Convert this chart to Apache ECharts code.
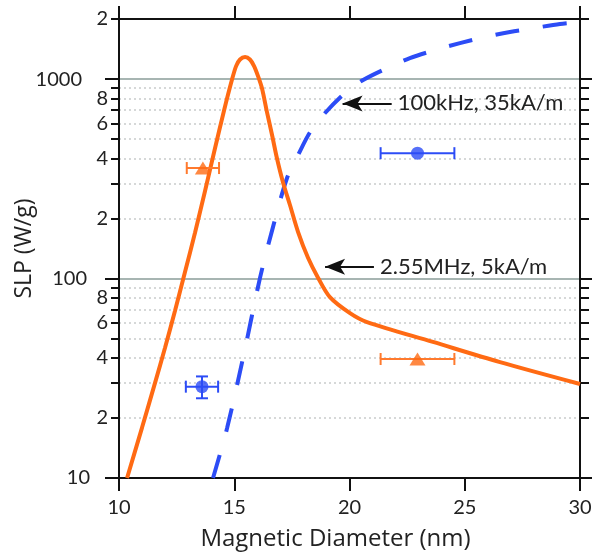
<!DOCTYPE html>
<html>
<head>
<meta charset="utf-8">
<script src="https://cdn.jsdelivr.net/npm/echarts@6/dist/echarts.min.js"></script>
<style>
  html, body { margin: 0; padding: 0; background: #fff; }
  #chart { width: 592px; height: 559px; }
</style>
</head>
<body>
<div id="chart"></div>
<script>
// 2.55MHz, 5kA/m (orange solid curve)
var orangeX = [10.35, 11.0, 11.56, 12.0, 12.43, 12.86, 13.3, 13.73, 14.16, 14.56, 14.9, 15.08, 15.25, 15.47, 15.68, 15.86, 16.03, 16.2, 16.42, 16.64, 16.85, 17.11, 17.42, 17.77, 18.2, 18.64, 19.15, 20.02, 20.76, 23.62, 26.53, 30];
var orangeY = [10, 17.9, 29.9, 45.1, 69, 107.4, 170.2, 274, 447, 698, 991, 1161, 1253, 1288, 1253, 1161, 1035, 901, 683, 524, 402, 305, 233, 171, 127, 100.7, 80.7, 67.1, 60.5, 48.1, 38.1, 29.6];
// 100kHz, 35kA/m (blue dashed curve)
var blueX = [14.08, 14.69, 15.42, 16.12, 16.68, 17.29, 17.77, 18.29, 18.94, 19.8, 20.59, 21.63, 22.62, 23.71, 24.79, 25.88, 26.96, 28.05, 29.13, 30];
var blueY = [10, 17.8, 41.9, 101, 181, 319, 416, 542, 676, 851, 989, 1135, 1274, 1397, 1514, 1624, 1722, 1804, 1889, 1933];
// measured points: [diameter, SLP, diameter error, SLP error]
var orangePts = [[13.64, 358, 0.7, 0], [22.95, 39.5, 1.6, 0]];
var bluePts = [[13.6, 28.7, 0.7, 3.6], [22.95, 425, 1.6, 0]];
// axis ticks
var xTicks = [10, 15, 20, 25, 30];
var yMajor = [10, 100, 1000];
var yMinor = [20, 30, 40, 50, 60, 70, 80, 90, 200, 300, 400, 500, 600, 700, 800, 900, 2000];
var yMinorLabels = [20, 40, 60, 80, 200, 400, 600, 800, 2000];
// arrows with text
var noteText = ['100kHz, 35kA/m', '2.55MHz, 5kA/m'];
var noteY = [755, 114.5];
var noteFrom = [21.83, 21.06];
var noteTo = [19.7, 18.94];

var ORANGE = '#ff6a13';
var BLUE = '#2c4cf6';
var FONT = 'Lato';
var TITLE_FONT = 'Open Sans';
var YMAX = Math.log10(2000);

function lg(v) { return Math.log10(v); }
function pairs(xs, ys) { return xs.map(function (x, i) { return [x, lg(ys[i])]; }); }
function firstDigit(v) { return String(Math.round(Math.pow(10, v))).charAt(0); }

function errorBars(color) {
  return function (params, api) {
    var x = api.value(0), y = api.value(1), dx = api.value(2), yHi = api.value(3), yLo = api.value(4);
    var c = api.coord([x, y]);
    var l = api.coord([x - dx, y]);
    var r = api.coord([x + dx, y]);
    var st = { stroke: color, lineWidth: 2 };
    var cap = 6;
    var kids = [
      { type: 'line', shape: { x1: l[0], y1: c[1], x2: r[0], y2: c[1] }, style: st },
      { type: 'line', shape: { x1: l[0], y1: c[1] - cap, x2: l[0], y2: c[1] + cap }, style: st },
      { type: 'line', shape: { x1: r[0], y1: c[1] - cap, x2: r[0], y2: c[1] + cap }, style: st }
    ];
    if (yHi !== yLo) {
      var t = api.coord([x, yHi]), b = api.coord([x, yLo]);
      kids.push({ type: 'line', shape: { x1: c[0], y1: t[1], x2: c[0], y2: b[1] }, style: st });
      kids.push({ type: 'line', shape: { x1: c[0] - cap, y1: t[1], x2: c[0] + cap, y2: t[1] }, style: st });
      kids.push({ type: 'line', shape: { x1: c[0] - cap, y1: b[1], x2: c[0] + cap, y2: b[1] }, style: st });
    }
    return { type: 'group', children: kids };
  };
}
function errData(pts) {
  return pts.map(function (p) { return [p[0], lg(p[1]), p[2], lg(p[1] + p[3]), lg(p[1] - p[3])]; });
}
function note(i) {
  return [
    { coord: [noteFrom[i], lg(noteY[i])], symbol: 'none' },
    { coord: [noteTo[i], lg(noteY[i])], symbol: 'arrow', symbolSize: [12, 20] }
  ];
}

var chart = echarts.init(document.getElementById('chart'));
var axisLine = { show: true, lineStyle: { color: '#111', width: 2 } };
var labelStyle = { color: '#222', fontFamily: FONT, fontSize: 20 };

chart.setOption({
  animation: false,
  grid: { left: 119, right: 12, top: 19, bottom: 81, containLabel: false, outerBoundsMode: 'none' },
  xAxis: [{
    type: 'value', position: 'bottom', min: 10, max: 30, interval: 5,
    name: 'Magnetic Diameter (nm)', nameLocation: 'middle', nameGap: 49, nameMoveOverlap: false,
    nameTextStyle: { color: '#222', fontFamily: TITLE_FONT, fontSize: 24, padding: [0, 28, 0, 0] },
    axisLine: axisLine,
    axisTick: { customValues: xTicks, length: 13, lineStyle: { color: '#111', width: 2 } },
    axisLabel: Object.assign({ customValues: xTicks, margin: 20 }, labelStyle),
    splitLine: { show: false }
  }, {
    type: 'value', position: 'top', min: 10, max: 30, interval: 5,
    axisLine: axisLine,
    axisTick: { customValues: xTicks, length: 13, lineStyle: { color: '#111', width: 2 } },
    axisLabel: { show: false },
    splitLine: { show: false }
  }],
  yAxis: [{
    type: 'value', position: 'left', min: 1, max: YMAX,
    name: 'SLP (W/g)', nameLocation: 'middle', nameGap: 83, nameMoveOverlap: false,
    nameTextStyle: { color: '#222', fontFamily: TITLE_FONT, fontSize: 23 },
    axisLine: axisLine,
    axisTick: { customValues: yMajor.map(lg), length: 14, lineStyle: { color: '#111', width: 2 } },
    axisLabel: Object.assign({
      customValues: yMajor.map(lg), margin: 29,
      formatter: function (v) {
        var n = Math.round(Math.pow(10, v));
        return '{m' + String(n).length + '|' + n + '}';
      },
      rich: {
        m2: labelStyle,
        m3: Object.assign({ padding: [0, 3, 0, 0] }, labelStyle),
        m4: Object.assign({ padding: [0, 8, 0, 0] }, labelStyle)
      }
    }, labelStyle),
    splitLine: { show: true, lineStyle: { color: '#a7b5b2', width: 2 } }
  }, {
    type: 'value', position: 'left', min: 1, max: YMAX,
    axisLine: { show: false },
    axisTick: { customValues: yMinor.map(lg), length: 8, lineStyle: { color: '#111', width: 2 } },
    axisLabel: Object.assign({ customValues: yMinorLabels.map(lg), margin: 11, formatter: firstDigit }, labelStyle),
    splitLine: { show: true, lineStyle: { color: '#c9cccc', width: 1.5, type: [2, 3] } }
  }, {
    type: 'value', position: 'right', min: 1, max: YMAX,
    axisLine: axisLine,
    axisTick: { customValues: yMajor.map(lg), length: 13, lineStyle: { color: '#111', width: 2 } },
    axisLabel: { show: false },
    splitLine: { show: false }
  }, {
    type: 'value', position: 'right', min: 1, max: YMAX,
    axisLine: { show: false },
    axisTick: { customValues: yMinor.map(lg), length: 9, lineStyle: { color: '#111', width: 2 } },
    axisLabel: { show: false },
    splitLine: { show: false }
  }],
  series: [{
    name: '100kHz, 35kA/m', type: 'line', data: pairs(blueX, blueY),
    smooth: 0.3, showSymbol: false, z: 3,
    lineStyle: { color: BLUE, width: 4, type: [24, 24], cap: 'butt' },
    markLine: {
      silent: true, z: 5,
      lineStyle: { color: '#111', width: 2, type: 'solid' },
      label: { position: 'start', distance: 6, color: '#222', fontFamily: FONT, fontSize: 22, formatter: noteText[0] },
      itemStyle: { color: '#111' },
      data: [note(0)]
    }
  }, {
    name: '2.55MHz, 5kA/m', type: 'line', data: pairs(orangeX, orangeY),
    smooth: 0.3, showSymbol: false, z: 4,
    lineStyle: { color: ORANGE, width: 4 },
    markLine: {
      silent: true, z: 5,
      lineStyle: { color: '#111', width: 2, type: 'solid' },
      label: { position: 'start', distance: 6, color: '#222', fontFamily: FONT, fontSize: 22, formatter: noteText[1] },
      itemStyle: { color: '#111' },
      data: [note(1)]
    }
  }, {
    type: 'custom', renderItem: errorBars('#ff7a2e'), data: errData(orangePts), z: 6
  }, {
    type: 'custom', renderItem: errorBars(BLUE), data: errData(bluePts), z: 6
  }, {
    type: 'scatter', symbol: 'triangle', symbolSize: [16, 13], z: 7,
    itemStyle: { color: ORANGE }, data: orangePts.map(function (p) { return [p[0], lg(p[1])]; })
  }, {
    type: 'scatter', symbol: 'circle', symbolSize: 13, z: 7,
    itemStyle: { color: BLUE }, data: bluePts.map(function (p) { return [p[0], lg(p[1])]; })
  }]
});
</script>
</body>
</html>
